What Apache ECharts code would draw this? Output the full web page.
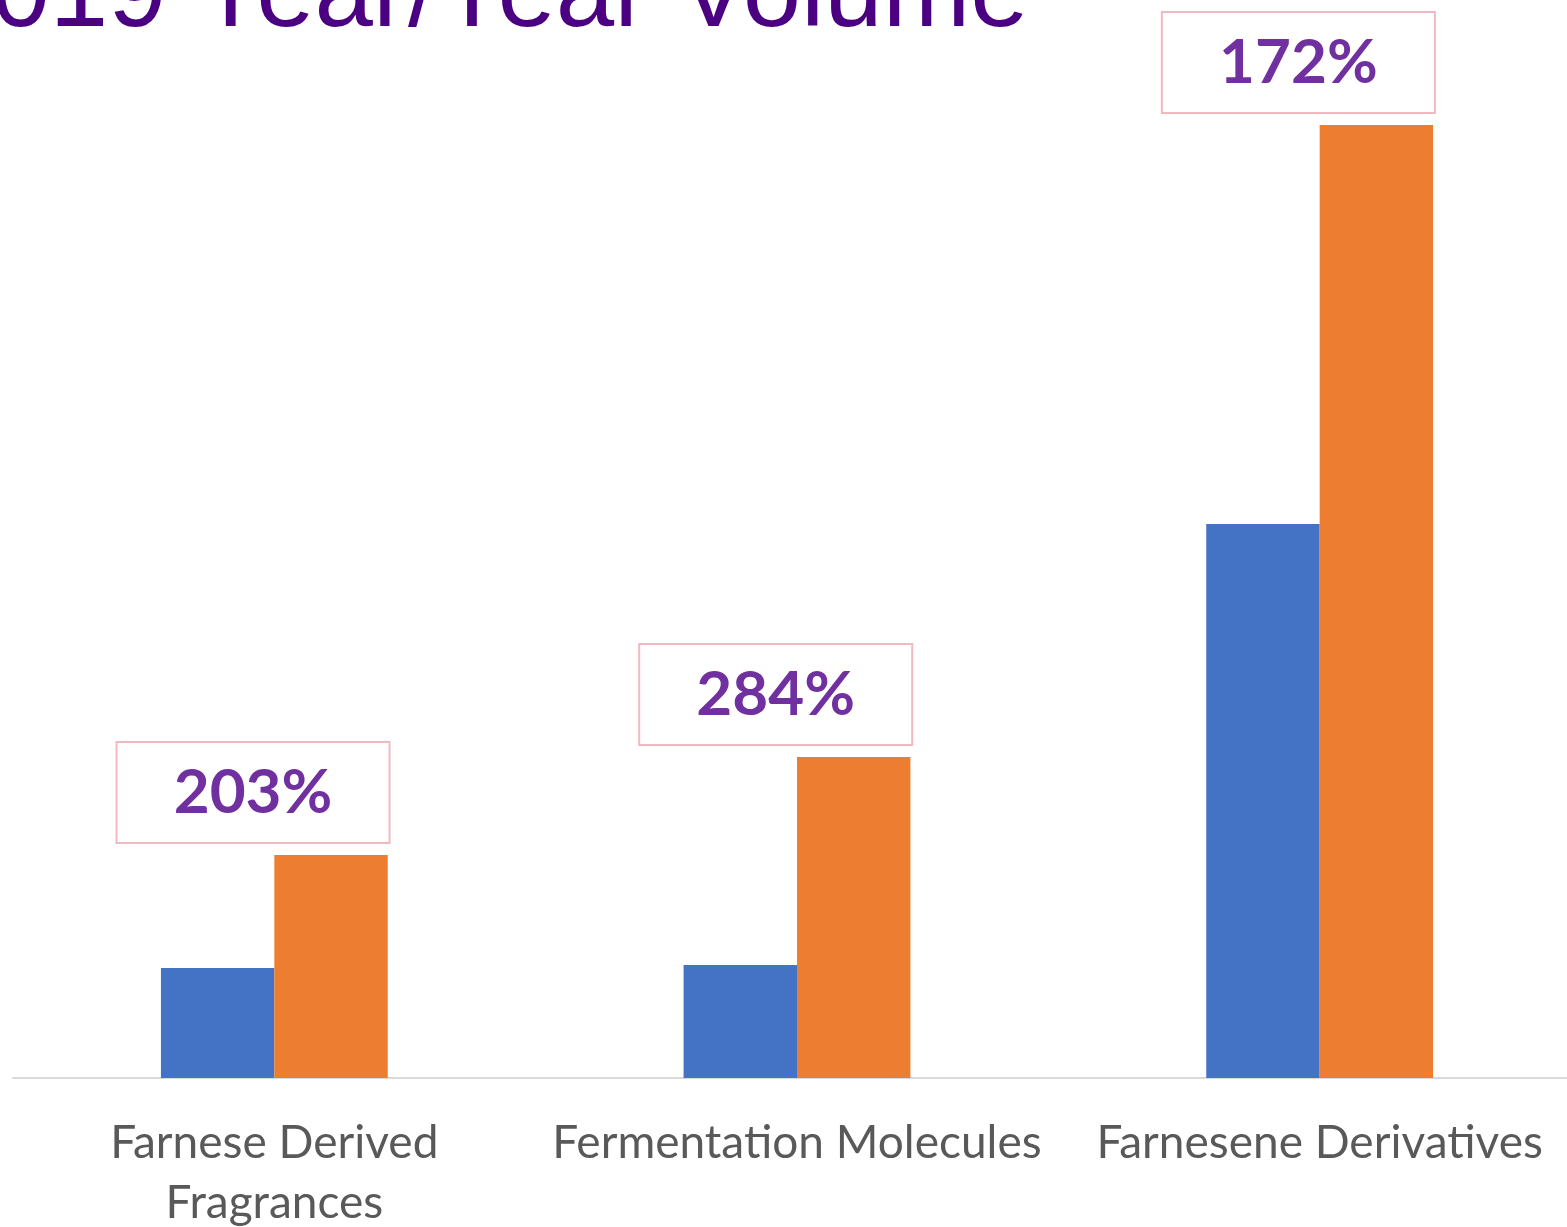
<!DOCTYPE html>
<html>
<head>
<meta charset="utf-8">
<script src="https://cdn.jsdelivr.net/npm/echarts@6/dist/echarts.min.js"></script>
<style>
    html, body { margin: 0; padding: 0; background: #fff; }
    #chart { width: 1567px; height: 1227px; }
</style>
</head>
<body>
<div id="chart"></div>
<script>
const categories = ['Farnese Derived\nFragrances', 'Fermentation Molecules', 'Farnesene Derivatives'];
const volumePrev = [110, 113, 554];
const volumeCurr = [223, 321, 953];
const growthLabels = ['203%', '284%', '172%'];

const myChart = echarts.init(document.getElementById('chart'));

const option = {
    animation: false,
    graphic: [{
        type: 'text',
        left: -67,
        top: -55,
        style: {
            text: '2019 Year/Year Volume',
            font: '105px "Liberation Sans", Arial, sans-serif',
            fill: '#4B0082',
        },
    }],
    grid: {
        left: 13,
        top: 78,
        width: 1568,
        height: 1000,
        outerBoundsMode: 'none',
        containLabel: false,
    },
    xAxis: {
        type: 'category',
        data: categories,
        axisLine: {
            lineStyle: {
                color: '#D9D9D9',
                width: 2,
            },
        },
        axisTick: {
            show: false,
        },
        axisLabel: {
            interval: 0,
            color: '#595959',
            fontFamily: 'Lato',
            fontSize: 46,
            lineHeight: 60,
            margin: 35,
        },
    },
    yAxis: {
        type: 'value',
        min: 0,
        max: 1000,
        show: false,
    },
    series: [
        {
            name: 'prev',
            type: 'bar',
            data: volumePrev,
            barGap: '0%',
            barCategoryGap: '56.6%',
            itemStyle: {
                color: '#4472C4',
            },
        },
        {
            name: 'curr',
            type: 'bar',
            data: volumeCurr,
            barGap: '0%',
            barCategoryGap: '56.6%',
            itemStyle: {
                color: '#ED7D31',
            },
            label: {
                show: true,
                position: 'top',
                distance: 13,
                offset: [-78, 0],
                formatter: p => growthLabels[p.dataIndex],
                color: '#7030A0',
                fontFamily: 'Lato',
                fontWeight: 'bold',
                fontSize: 62,
                width: 271,
                height: 99,
                lineHeight: 99,
                align: 'center',
                backgroundColor: '#fff',
                borderColor: '#F2B8C0',
                borderWidth: 2,
            },
        },
    ],
};

myChart.setOption(option);
</script>
</body>
</html>
